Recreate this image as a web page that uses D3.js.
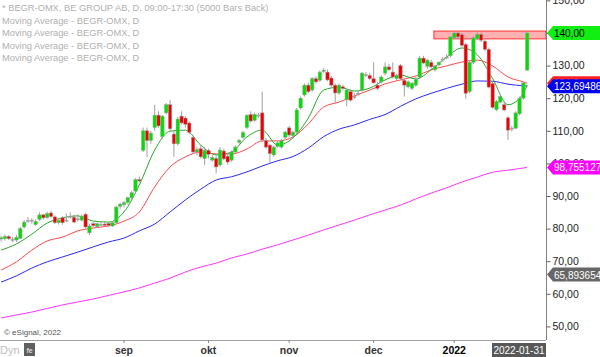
<!DOCTYPE html>
<html><head><meta charset="utf-8">
<script src="https://cdn.jsdelivr.net/npm/d3@7"></script>
<style>body{margin:0;background:#fff}svg{display:block;font-family:Arial,"Liberation Sans",sans-serif}</style>
</head><body><svg id="c" width="600" height="357"></svg>
<script>
// ---- data ----
const opens = [76.8,76.9,77.6,76.7,76.5,77.0,80.5,82.3,82.4,81.2,82.8,84.2,83.4,84.8,83.6,81.8,83.3,82.5,83.6,83.5,82.8,82.6,84.4,78.7,81.5,80.6,81.2,81.4,81.6,80.8,
81.8,86.8,87.3,88.0,89.5,91.5,95.0,104.0,110.0,107.0,111.0,114.8,108.2,115.5,118.0,109.0,106.0,114.5,113.9,112.4,108.0,103.5,104.5,101.5,104.0,101.0,101.5,99.5,103.8,102.2,
101.0,103.5,106.5,108.0,111.0,115.0,113.2,114.8,115.5,107.0,105.6,102.6,105.2,105.0,108.0,110.9,108.5,109.6,117.0,121.0,124.0,122.5,126.0,125.5,128.2,128.0,126.2,124.0,121.6,123.5,
119.5,122.0,120.5,121.5,122.5,127.2,127.0,126.0,124.0,125.0,127.7,129.6,128.0,126.0,130.0,125.5,123.5,123.0,124.0,126.4,132.3,129.8,131.0,128.7,130.2,131.8,132.5,133.0,138.5,140.0,
139.5,136.5,122.0,131.0,138.2,139.6,137.5,135.0,124.5,116.5,118.8,118.0,114.0,110.5,110.8,115.2,120.0,128.6];
const highs = [77.8,78.2,78.0,77.5,78.0,80.5,82.6,83.5,83.2,82.8,85.0,84.6,85.2,85.5,84.0,83.2,83.8,84.6,85.0,84.2,84.4,84.3,84.9,81.5,82.0,81.8,82.0,82.2,82.0,82.2,
87.0,88.0,88.5,89.8,91.5,95.5,96.0,111.0,111.0,110.0,118.0,116.0,114.8,118.5,119.5,110.0,114.3,116.0,114.5,113.0,108.5,105.0,105.5,105.0,104.5,102.5,102.2,105.0,104.5,103.0,
104.0,105.5,107.5,110.0,115.0,116.0,115.5,115.5,122.0,107.8,106.0,105.5,106.8,107.5,110.0,111.5,110.0,117.0,120.5,124.5,124.8,126.5,126.8,128.5,129.2,128.8,126.8,124.5,124.5,124.2,
123.0,122.8,121.5,122.3,128.0,128.0,127.8,131.0,125.0,127.0,131.0,130.5,131.0,127.5,130.5,126.0,125.5,125.0,126.5,133.0,133.0,132.0,131.8,130.2,131.3,132.6,133.5,139.0,140.3,140.5,
140.0,137.0,131.5,139.0,140.3,140.2,138.0,135.5,125.0,119.5,121.0,119.0,114.5,111.5,116.0,120.5,125.0,140.3];
const lows = [76.0,76.3,76.5,75.8,75.9,76.8,80.0,81.8,81.5,80.8,82.4,82.8,83.0,83.3,81.4,81.3,81.2,82.0,83.0,81.6,82.2,82.2,80.0,78.0,80.5,80.2,80.8,80.8,80.6,80.5,
81.5,86.0,86.5,87.4,88.8,91.0,94.2,103.5,102.0,106.0,110.0,111.0,107.5,115.0,110.0,102.0,105.5,112.0,111.0,109.0,103.0,102.5,101.5,99.5,101.5,100.5,97.0,99.0,101.0,99.6,
100.5,103.0,106.0,107.5,110.5,112.5,112.8,114.0,106.5,104.5,100.0,102.0,104.8,104.5,107.5,108.0,107.5,109.0,116.5,120.5,121.5,122.0,124.5,125.0,127.8,125.2,123.5,118.5,121.0,122.5,
117.5,119.0,119.8,120.8,122.0,126.5,125.5,124.5,122.5,124.5,127.0,128.5,126.0,125.5,125.5,120.5,123.0,122.5,123.5,126.0,130.5,129.0,129.0,128.2,129.8,131.2,132.0,132.5,138.0,138.2,
135.8,119.8,121.5,130.5,137.8,137.2,134.5,123.0,116.8,116.0,118.5,116.0,107.2,109.8,110.5,114.8,119.5,128.5];
const closes = [77.2,77.6,76.9,76.6,77.3,80.0,82.0,82.5,82.6,82.2,84.2,83.3,84.6,83.7,81.8,82.6,81.8,82.6,83.8,82.0,83.0,83.8,80.5,80.8,80.9,81.5,81.3,81.0,81.0,81.8,
86.6,87.5,88.0,89.5,91.0,95.0,94.6,110.0,107.0,109.3,114.8,111.5,114.5,118.0,110.6,106.0,113.6,112.4,112.0,109.5,103.5,104.3,102.0,104.0,102.8,101.8,98.9,104.1,101.4,100.4,
103.5,105.0,107.0,109.5,114.8,113.0,115.0,114.8,107.2,105.0,103.0,105.0,106.3,107.0,109.6,108.7,109.6,116.4,120.0,124.0,122.0,126.0,125.0,128.0,128.6,125.6,124.0,121.6,124.0,123.0,
122.5,119.4,120.5,121.5,127.7,127.0,126.0,124.7,123.0,126.5,129.6,128.7,126.5,127.0,126.0,124.0,125.0,124.6,125.8,132.3,130.8,131.7,129.6,129.9,131.0,132.0,132.6,138.8,140.0,138.8,
136.2,121.5,131.0,138.5,139.6,137.8,135.0,123.4,117.2,119.0,120.5,116.4,110.2,110.8,115.5,120.0,124.7,140.0];

// moving averages read at sampled bars
const maIdx = [0,4,8,12,16,20,24,28,32,36,40,44,48,52,56,60,64,68,72,76,80,84,88,92,96,100,104,108,112,116,120,124,128,132,136,137];
const maGreen = [73.4,75.3,78.3,81.7,83.3,83.9,82.3,82.0,85.1,93.4,104.1,109.9,110.2,105.6,102.6,103.5,108.1,110.2,105.6,107.8,113.9,122.5,123.4,122.2,123.1,125.6,127.1,125.9,128.7,132.6,135.4,133.3,126.0,118.0,121.5,124.0];
const maRed = [67.3,69.8,73.4,76.2,77.4,79.3,80.2,80.8,82.3,85.1,92.8,98.9,102.0,103.5,102.9,102.9,104.4,106.9,106.9,108.1,112.1,117.3,118.8,120.7,122.5,124.4,125.6,126.8,128.7,129.9,131.1,131.7,129.9,126.5,125.0,124.6];
const maBlue = [63.6,65.5,67.9,69.8,71.3,72.8,74.4,75.9,77.1,79.3,81.4,85.1,88.8,92.1,94.9,95.9,97.4,99.2,100.8,102.1,104.7,108.2,110.5,111.8,113.5,115.0,117.5,119.8,121.5,123.0,124.3,125.3,125.2,124.3,123.8,123.694862];
const maMagenta = [52.6,53.5,54.4,55.5,56.6,57.5,58.4,59.5,60.6,61.8,63.3,64.8,66.7,68.2,69.4,71.0,72.2,73.7,75.0,76.5,78.0,79.6,81.1,82.6,84.2,85.7,87.2,89.1,90.9,92.5,94.3,95.8,97.3,97.9,98.6,98.755127];

const monthLabels = ["sep","okt","nov","dec","2022"];
const monthIdx = [32,54,75,97,118];
const yTicks = [50,60,70,80,90,100,110,120,130,140,150];
const zoneLow = 138.2, zoneHigh = 140.6, zoneStart = 112.7;
const legendLines = ["* BEGR-OMX, BE GROUP AB, D, 09:00-17:30 (5000 Bars Back)","Moving Average - BEGR-OMX, D","Moving Average - BEGR-OMX, D","Moving Average - BEGR-OMX, D","Moving Average - BEGR-OMX, D"];
const priceLabels = [
  {v:124.6, txt:"124,6", bg:"#ff2020", fg:"#fff"},
  {v:140.0, txt:"140,00", bg:"#11ee11", fg:"#000"},
  {v:123.694862, txt:"123,694862", bg:"#0000f0", fg:"#fff"},
  {v:98.755127, txt:"98,755127", bg:"#ff00ff", fg:"#fff"},
  {v:65.893654, txt:"65,893654", bg:"#666666", fg:"#fff"}
];
const lastDate = "2022-01-31";

// ---- drawing ----
const svg = d3.select("#c");
const axisX = 546, bottomY = 340;
const x = d3.scaleLinear().domain([0, 137]).range([1.1, 527.2]);
const y = d3.scaleLinear().domain([50, 150]).range([326.4, 0.4]);

svg.append("defs").append("clipPath").attr("id","plot")
  .append("rect").attr("x",0).attr("y",0).attr("width",axisX).attr("height",bottomY);

const g = svg.append("g").attr("clip-path","url(#plot)");

// legend
svg.append("g").selectAll("text").data(legendLines).join("text")
  .attr("x",2).attr("y",(d,i)=>11+i*12.6)
  .attr("font-size",9.3).attr("fill","#b0b0b0").text(d=>d);

// resistance zone
g.append("rect").attr("x",x(zoneStart)).attr("y",y(zoneHigh))
  .attr("width",axisX - x(zoneStart)).attr("height",y(zoneLow)-y(zoneHigh))
  .attr("fill","#ffb0b0").attr("stroke","#ff3030").attr("stroke-width",1);

// moving averages
const lineGen = arr => d3.line().x((d,i)=>x(maIdx[i])).y(d=>y(d)).curve(d3.curveMonotoneX)(arr);
[[maMagenta,"#ff33ff"],[maBlue,"#2828ff"],[maRed,"#ff4a4a"],[maGreen,"#28a828"]].forEach(([arr,col])=>{
  g.append("path").attr("d",lineGen(arr)).attr("fill","none").attr("stroke",col).attr("stroke-width",1);
});

// candles
const bars = d3.range(closes.length).map(i=>({i,o:opens[i],h:highs[i],l:lows[i],c:closes[i]}));
const cg = g.append("g");
cg.selectAll("line").data(bars).join("line")
  .attr("x1",d=>x(d.i)).attr("x2",d=>x(d.i))
  .attr("y1",d=>y(d.h)).attr("y2",d=>y(d.l))
  .attr("stroke","#a0a0a0").attr("stroke-width",1);
cg.selectAll("rect").data(bars).join("rect")
  .attr("x",d=>x(d.i)-1.7).attr("width",3.4)
  .attr("y",d=>y(Math.max(d.o,d.c)))
  .attr("height",d=>Math.max(1,Math.abs(y(d.o)-y(d.c))))
  .attr("fill",d=>Math.abs(d.c-d.o)<0.35?"#a0a0a0":(d.c>d.o?"#00e000":"#f00000"))
  .attr("stroke","#a0a0a0").attr("stroke-width",0.5);

// axes frame
svg.append("line").attr("x1",axisX+0.5).attr("x2",axisX+0.5).attr("y1",0).attr("y2",bottomY).attr("stroke","#808080");
svg.append("line").attr("x1",0).attr("x2",axisX).attr("y1",bottomY+0.5).attr("y2",bottomY+0.5).attr("stroke","#a0a0a0");

// y axis
const yAxis = d3.axisRight(y).tickValues(yTicks).tickSize(4).tickFormat(d=>d3.format(".2f")(d).replace(".",","));
const ya = svg.append("g").attr("transform",`translate(${axisX+0.5},0)`).call(yAxis);
ya.select(".domain").remove();
ya.selectAll("line").attr("stroke","#606060");
ya.selectAll("text").attr("font-size",10.5).attr("fill","#222").attr("x",6).attr("font-family","Arial,'Liberation Sans',sans-serif");

// x axis
const xa = svg.append("g");
xa.selectAll("line").data(monthIdx).join("line")
  .attr("x1",d=>x(d)).attr("x2",d=>x(d)).attr("y1",bottomY).attr("y2",bottomY+3).attr("stroke","#888");
xa.selectAll("text").data(monthLabels).join("text")
  .attr("x",(d,i)=>x(monthIdx[i])).attr("y",354).attr("text-anchor","middle")
  .attr("font-size",10.5).attr("font-weight","bold").attr("fill",d=>d==="2022"?"#000":"#333").text(d=>d);

// last date box
svg.append("rect").attr("x",492).attr("y",343).attr("width",54).attr("height",14).attr("fill","#585858");
svg.append("text").attr("x",519).attr("y",354).attr("text-anchor","middle").attr("font-size",10).attr("fill","#fff").text(lastDate);

// Dyn and icon
svg.append("text").attr("x",0).attr("y",354).attr("font-size",11).attr("fill","#c0c0c0").text("Dyn");
svg.append("rect").attr("x",24).attr("y",343).attr("width",11).attr("height",13).attr("fill","#606060");
svg.append("text").attr("x",29.5).attr("y",353).attr("text-anchor","middle").attr("font-size",7).attr("font-weight","bold").attr("fill","#ddd").text("fe");

// copyright
svg.append("text").attr("x",4).attr("y",335).attr("font-size",8).attr("fill","#555").text("\u00a9 eSignal, 2022");

// price labels
const pl = svg.append("g").selectAll("g").data(priceLabels).join("g")
  .attr("transform",d=>`translate(${axisX+1},${y(d.v)})`);
pl.append("path").attr("d","M0,0 L6,-7 L54,-7 L54,7 L6,7 Z").attr("fill",d=>d.bg);
pl.append("text").attr("x",7).attr("y",4).attr("font-size",10).attr("fill",d=>d.fg).text(d=>d.txt);
</script></body></html>
